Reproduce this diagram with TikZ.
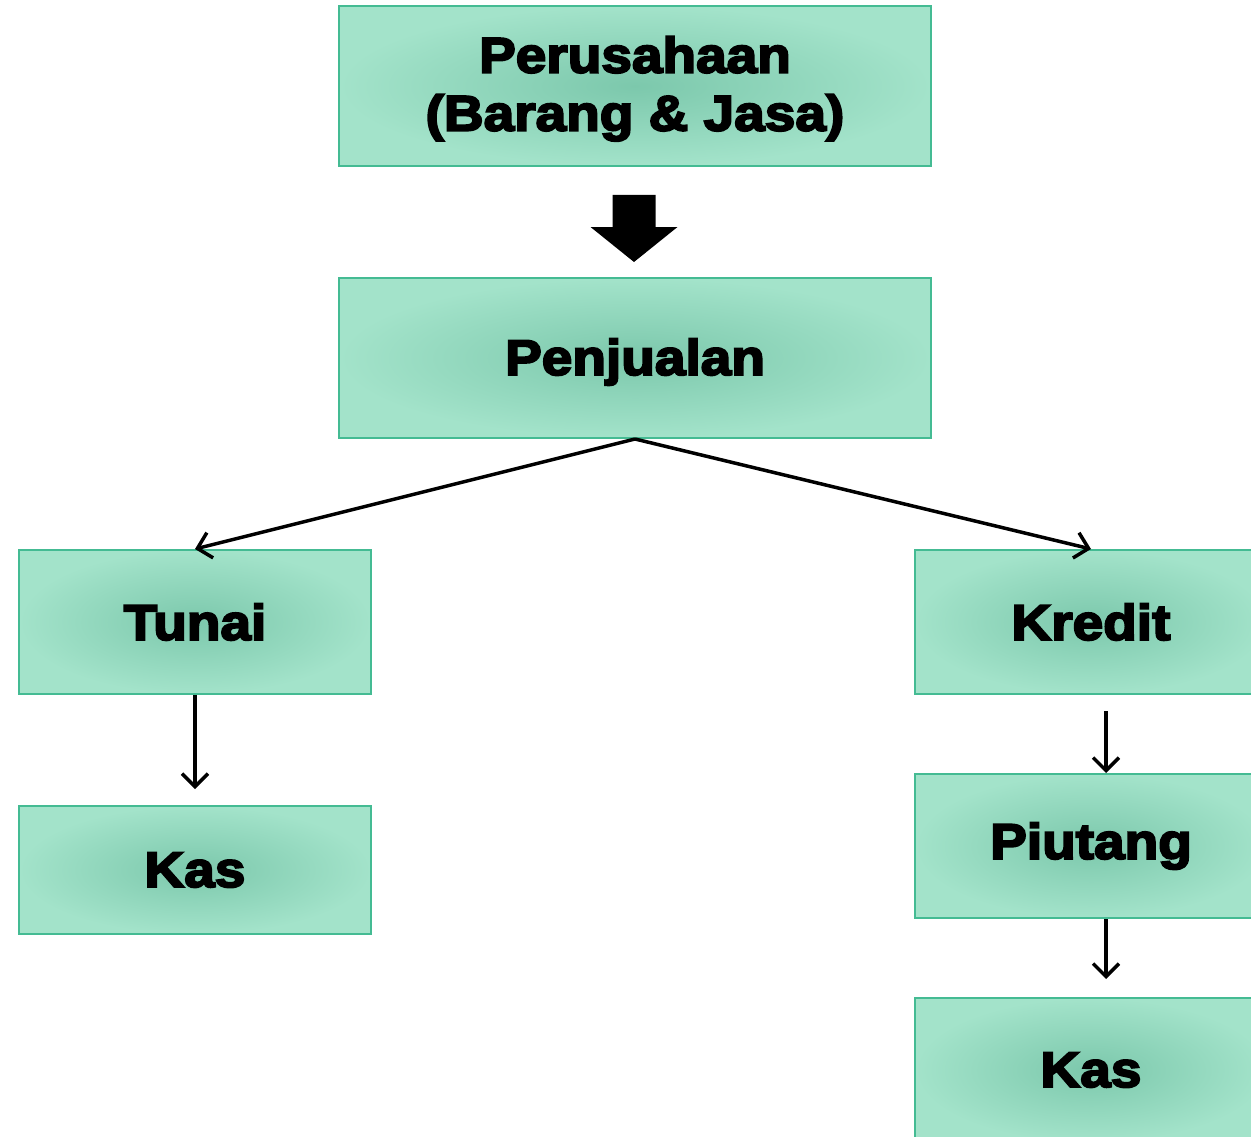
\documentclass[tikz,border=0pt]{standalone}
\usepackage{fontspec}
\newfontfamily\heavy[FakeBold=4,FakeStretch=1.1]{Liberation Sans}
\usetikzlibrary{arrows.meta}
\definecolor{boxin}{HTML}{7CC8AC}
\definecolor{boxout}{HTML}{A3E3CA}
\definecolor{boxline}{HTML}{44BB93}
\tikzset{
  box/.style={draw=boxline, line width=2pt, inner color=boxin, outer color=boxout,
    anchor=north west, align=center, inner sep=0pt,
    font=\heavy\bfseries\fontsize{50}{58}\selectfont},
  conn/.style={draw=black, line width=3.5pt, -{Straight Barb[length=13pt,width=26pt,line width=3.5pt]}},
}
\begin{document}
\begin{tikzpicture}[x=1pt,y=-1pt]
\useasboundingbox (0,0) rectangle (1251,1137);
\clip (0,0) rectangle (1251,1137);
\node[box, minimum width=592pt, minimum height=160pt] (per) at (338,5) {\raisebox{-4pt}[\height][\depth]{\begin{tabular}{@{}c@{}}Perusahaan\\(Barang \& Jasa)\end{tabular}}};
\node[box, minimum width=592pt, minimum height=160pt] (pen) at (338,277) {\raisebox{-4pt}[\height][\depth]{Penjualan}};
\node[box, minimum width=352pt, minimum height=144pt] (tun) at (18,549) {Tunai};
\node[box, minimum width=352pt, minimum height=128pt] (kas1) at (18,805) {Kas};
\node[box, minimum width=352pt, minimum height=144pt] (kre) at (914,549) {Kredit};
\node[box, minimum width=352pt, minimum height=144pt] (piu) at (914,773) {Piutang};
\node[box, minimum width=352pt, minimum height=144pt] (kas2) at (914,997) {Kas};
% block arrow
\fill[black] (612.5,195) -- (655.5,195) -- (655.5,227) -- (677.5,227) -- (634,262) -- (590.5,227) -- (612.5,227) -- cycle;
% connectors
\draw[conn] (pen.south) -- (tun.north);
\draw[conn] (pen.south) -- (kre.north);
\draw[conn, shorten >=16pt] (tun.south) -- (kas1.north);
\draw[conn] ([xshift=15pt,yshift=-16pt]kre.south) -- ([xshift=15pt]piu.north);
\draw[conn] ([xshift=15pt]piu.south) -- ([xshift=15pt,yshift=18pt]kas2.north);
\end{tikzpicture}
\end{document}
